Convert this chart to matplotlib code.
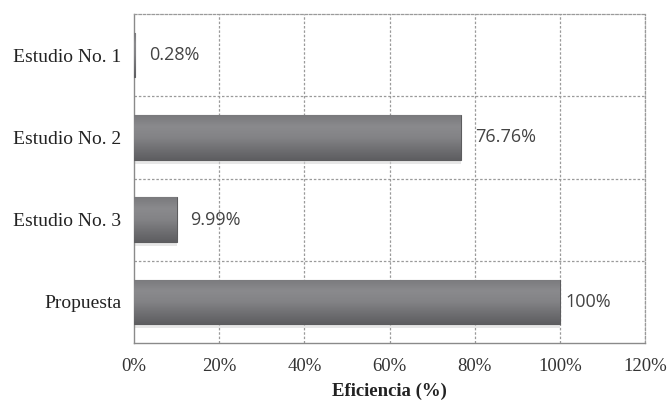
import matplotlib
matplotlib.use("Agg")
import matplotlib.pyplot as plt
import numpy as np
from matplotlib.colors import LinearSegmentedColormap

categories = ["Estudio No. 1", "Estudio No. 2", "Estudio No. 3", "Propuesta"]
values = [0.28, 76.76, 9.99, 100]
value_labels = ["0.28%", "76.76%", "9.99%", "100%"]
xticks = [0, 20, 40, 60, 80, 100, 120]

fig = plt.figure(figsize=(6.68, 4.04), dpi=100)
ax = fig.add_axes([134/668, 61/404, (645-134)/668, (343-14)/404])

ypos = list(range(len(categories)))
bh = 0.54
bars = ax.barh(ypos, values, height=bh, color="#7a7a7d", edgecolor="#5c5c5e", linewidth=0.8, zorder=3)

# vertical gradient: lighter at top-middle, darker at bottom
cmap = LinearSegmentedColormap.from_list("g", ["#7a7a7d", "#8a8a8d", "#838386", "#707073", "#5e5e61"])
grad = np.linspace(0, 1, 64).reshape(-1, 1)
for b in bars:
    x0, y0, w, h = b.get_x(), b.get_y(), b.get_width(), b.get_height()
    im = ax.imshow(grad, cmap=cmap, aspect="auto", extent=(x0, x0 + w, y0 + h, y0), origin="upper", zorder=3.5)
    im.set_clip_path(b)
    ax.fill_between([x0, x0 + w], y0 + h, y0 + h + 0.05, color="#d8d8d8", alpha=0.6, zorder=2.5, linewidth=0)

ax.set_xlim(0, 120)
ax.set_ylim(len(categories) - 0.5, -0.5)
ax.set_yticks(ypos)
ax.set_yticklabels(categories, family="Liberation Serif", fontsize=14, color="#222222")
ax.set_xticks(xticks)
ax.set_xticklabels([f"{t}%" for t in xticks], family="Liberation Serif", fontsize=13.5, color="#333333")
ax.tick_params(axis="y", length=0, pad=9)
ax.tick_params(axis="x", length=0, pad=11)

for x in xticks[1:]:
    ax.axvline(x, color="#9a9a9a", linestyle=(0, (2, 1.5)), linewidth=0.9, zorder=1)
for yb in [0.5, 1.5, 2.5]:
    ax.axhline(yb, color="#9a9a9a", linestyle=(0, (2, 1.5)), linewidth=0.9, zorder=1)

for s in ["top", "right"]:
    ax.spines[s].set_color("#9a9a9a")
    ax.spines[s].set_linestyle((0, (2, 1.5)))
    ax.spines[s].set_linewidth(0.9)
for s in ["left", "bottom"]:
    ax.spines[s].set_color("#8a8a8a")
    ax.spines[s].set_linewidth(1.0)

offs = [10, 10, 10, 4]
for y, v, lab, o in zip(ypos, values, value_labels, offs):
    ax.annotate(lab, (v, y), xytext=(o, 0), textcoords="offset points",
                va="center", ha="left", fontsize=13, family="Open Sans", color="#444444", zorder=4)

ax.set_xlabel("Eficiencia (%)", family="Liberation Serif", fontsize=13.5, fontweight="bold", color="#222222", labelpad=5)

fig.savefig("out.png", dpi=100)
